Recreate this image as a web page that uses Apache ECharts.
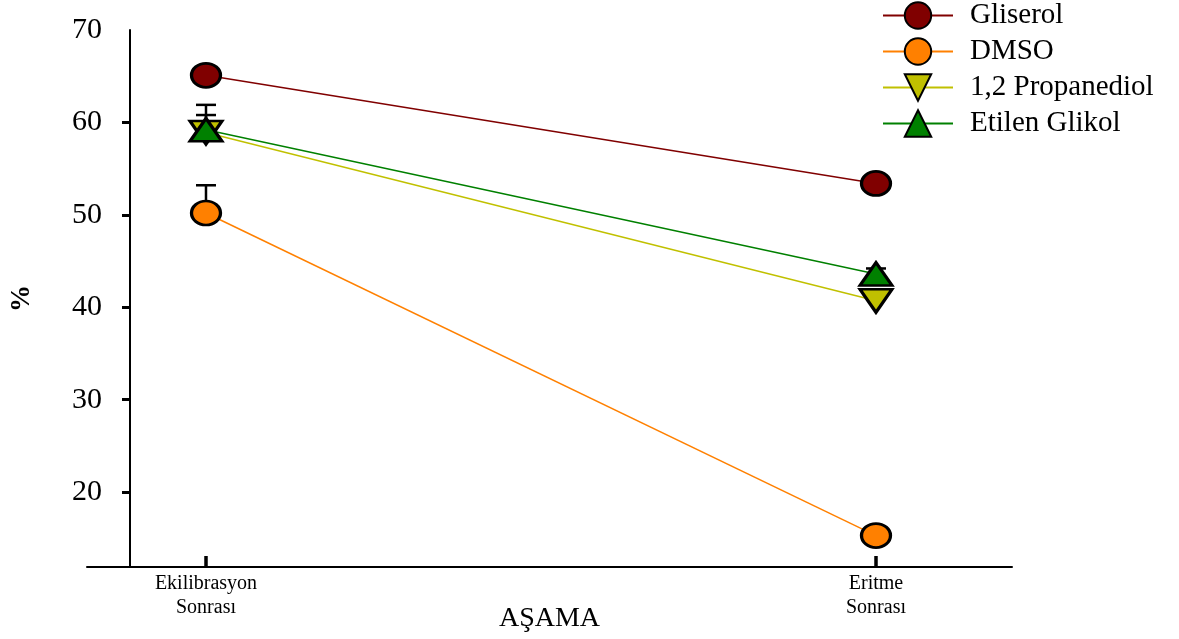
<!DOCTYPE html>
<html><head><meta charset="utf-8">
<script src="https://cdn.jsdelivr.net/npm/echarts@6/dist/echarts.min.js"></script>
<style>html,body{margin:0;padding:0;background:#fff}#c{width:1179px;height:639px}</style>
</head><body><div id="c"></div>
<script>
const categories = ['Ekilibrasyon\nSonrası', 'Eritme\nSonrası'];
const seriesNames = ['Gliserol', 'DMSO', '1,2 Propanediol', 'Etilen Glikol'];
const gliserol = [65.1, 53.4];
const dmso = [50.2, 15.3];
const propanediol = [58.9, 40.7];
const etilenGlikol = [59.2, 43.6];
const gliserolErr = [0.4, 0.4];
const dmsoErr = [3.0, 0.3];
const propanediolErr = [1.9, 0.4];
const etilenGlikolErr = [2.7, 0.6];
const yTicks = [20, 30, 40, 50, 60];
const yLabels = [20, 30, 40, 50, 60, 70];

const values = [gliserol, dmso, propanediol, etilenGlikol];
const errs = [gliserolErr, dmsoErr, propanediolErr, etilenGlikolErr];
const colors = ['#800000', '#FF8000', '#C0C000', '#008000'];
const symbols = ['circle', 'circle', 'triangle', 'triangle'];
const rotates = [0, 0, 180, 0];
const sizes = [[29, 24], [29, 24], [32, 23], [32, 23]];
const font = '"Liberation Serif", "Times New Roman", serif';

const series = [];
values.forEach((vals, si) => {
  series.push({
    type: 'custom', z: 1, silent: true,
    data: vals.map((v, i) => [i, v, errs[si][i]]),
    renderItem: function (params, api) {
      const x = api.value(0), y = api.value(1), e = api.value(2);
      const p0 = api.coord([x, y]);
      const p1 = api.coord([x, y + e]);
      const st = { stroke: '#000', lineWidth: 2.5 };
      return { type: 'group', children: [
        { type: 'line', shape: { x1: p0[0], y1: p0[1], x2: p1[0], y2: p1[1] }, style: st },
        { type: 'line', shape: { x1: p1[0] - 10, y1: p1[1], x2: p1[0] + 10, y2: p1[1] }, style: st }
      ]};
    }
  });
});
values.forEach((vals, si) => {
  series.push({
    name: seriesNames[si], type: 'line', z: 3 + si,
    data: vals.map((v, i) => [i, v]),
    symbol: symbols[si], symbolSize: sizes[si], symbolRotate: rotates[si],
    lineStyle: { color: colors[si], width: 1.5 },
    itemStyle: { color: colors[si], borderColor: '#000', borderWidth: 3 },
    emphasis: { disabled: true }, animation: false
  });
});

const chart = echarts.init(document.getElementById('c'));
chart.setOption({
  animation: false,
  backgroundColor: '#fff',
  grid: { left: 87, right: 167, top: 30, bottom: 72, containLabel: false, outerBoundsMode: 'none' },
  legend: {
    orient: 'vertical', left: 882, top: 1, padding: 0, itemWidth: 70, itemHeight: 33, itemGap: 7,
    data: seriesNames,
    textStyle: { fontFamily: font, fontSize: 29, color: '#000', padding: [0, 0, 0, 12] }
  },
  xAxis: {
    type: 'value', min: -0.1776, max: 1.203,
    name: 'AŞAMA', nameLocation: 'middle', nameGap: 38, nameMoveOverlap: false,
    nameTextStyle: { fontFamily: font, fontSize: 28, color: '#000' },
    axisLine: { onZero: false, lineStyle: { color: '#000', width: 2 } },
    axisTick: { show: true, inside: true, length: 11, lineStyle: { color: '#000', width: 3.5 }, customValues: [0, 1] },
    axisLabel: { customValues: [0, 1], formatter: v => categories[Math.round(v)] || '',
      fontFamily: font, fontSize: 20, lineHeight: 24, color: '#000', margin: 5 },
    splitLine: { show: false }
  },
  yAxis: {
    type: 'value', min: 11.9, max: 70, offset: -43,
    name: '%', nameLocation: 'middle', nameRotate: 90, nameGap: 94, nameMoveOverlap: false,
    nameTextStyle: { fontFamily: font, fontSize: 27, fontWeight: 'bold', color: '#000' },
    axisLine: { show: true, onZero: false, lineStyle: { color: '#000', width: 2 } },
    axisTick: { show: true, length: 8, lineStyle: { color: '#000', width: 3 }, customValues: yTicks },
    axisLabel: { customValues: yLabels, fontFamily: font, fontSize: 30, color: '#000', margin: 28 },
    splitLine: { show: false }
  },
  series: series
});
</script></body></html>
